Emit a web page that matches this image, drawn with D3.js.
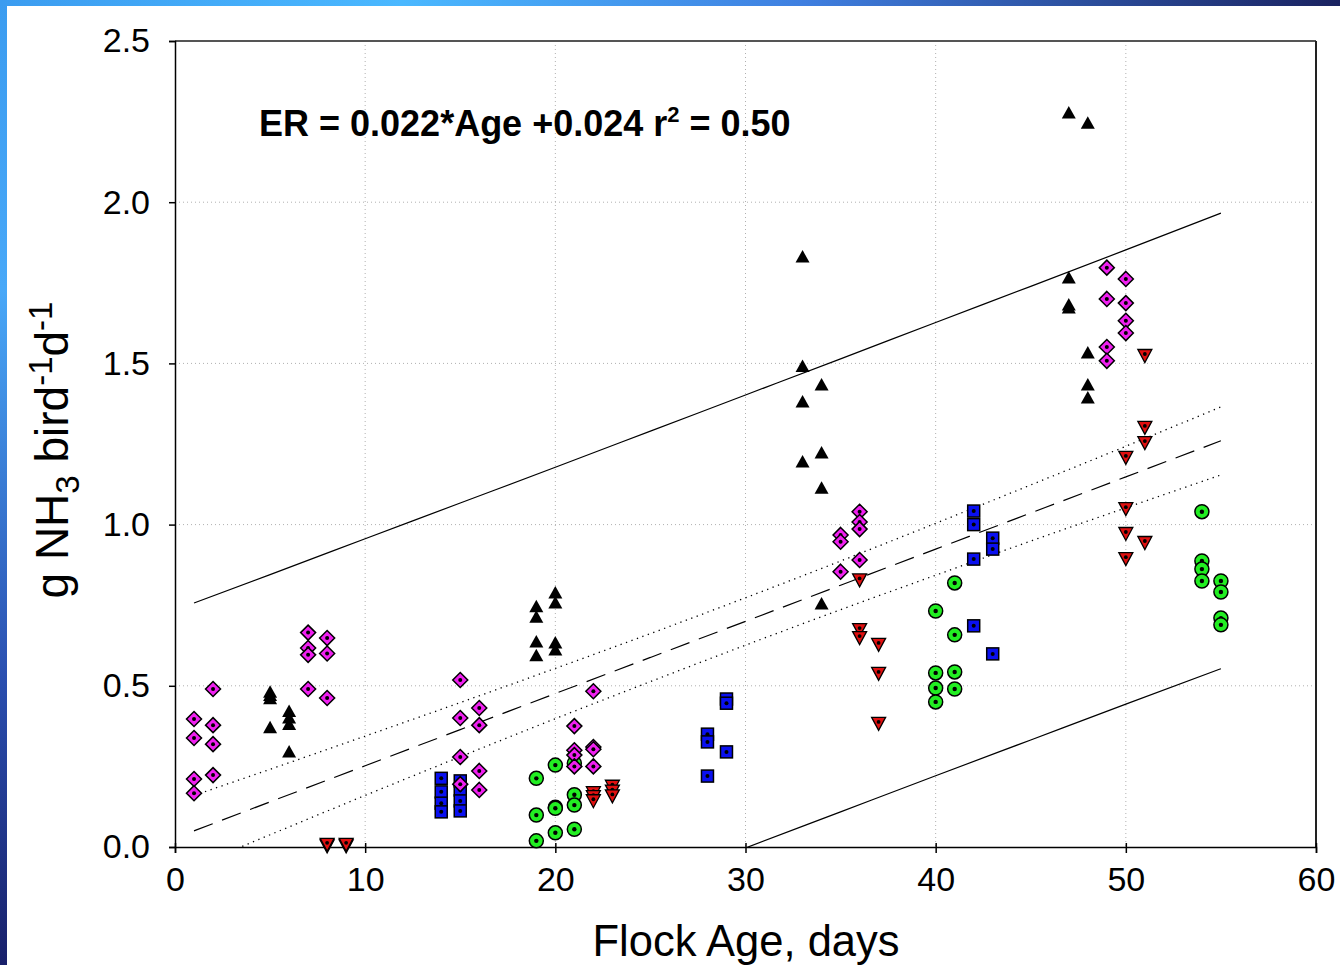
<!DOCTYPE html>
<html><head><meta charset="utf-8">
<script src="https://cdn.jsdelivr.net/npm/d3@7"></script>
<style>html,body{margin:0;padding:0;background:#fff;}svg{display:block;font-family:"Liberation Sans",Arial,sans-serif;}</style>
</head><body><svg id="c" width="1340" height="965"></svg>
<script>
// ---------- data ----------
const xTicks = [0,10,20,30,40,50,60];
const yTicks = [0,0.5,1.0,1.5,2.0,2.5];

const triUpAge = [5,5,5,5, 6,6,6,6, 19,19,19,19, 20,20,20,20, 33,33,33,33, 34,34,34,34, 47,47,47,47, 48,48,48,48];
const triUpVal = [0.48,0.47,0.46,0.37, 0.42,0.40,0.38,0.295, 0.745,0.713,0.636,0.593, 0.788,0.757,0.633,0.611, 1.83,1.49,1.38,1.194, 1.433,1.222,1.113,0.754, 2.277,1.765,1.681,1.672, 2.245,1.532,1.433,1.393];

const diaAge = [1,1,1,1, 2,2,2,2, 7,7,7,7, 8,8,8, 15,15,15,15, 16,16,16,16, 21,21,21,21, 22,22,22,22, 35,35,35, 36,36,36,36, 49,49,49,49, 50,50,50,50];
const diaVal = [0.397,0.338,0.211,0.167, 0.49,0.378,0.319,0.223, 0.665,0.617,0.596,0.49, 0.648,0.60,0.462, 0.518,0.40,0.279,0.195, 0.431,0.378,0.236,0.177, 0.375,0.30,0.285,0.25, 0.483,0.31,0.303,0.25, 0.968,0.947,0.854, 1.04,1.008,0.986,0.89, 1.797,1.70,1.551,1.508, 1.762,1.687,1.632,1.594];

const sqAge = [14,14,14,14, 15,15,15,15, 28,28,28, 29,29,29, 42,42,42,42, 43,43,43];
const sqVal = [0.213,0.171,0.136,0.109, 0.205,0.177,0.143,0.112, 0.35,0.326,0.22, 0.459,0.446,0.295, 1.042,1.0,0.893,0.686, 0.958,0.924,0.599];

const cirAge = [19,19,19, 20,20,20,20, 21,21,21,21, 40,40,40,40, 41,41,41,41, 54,54,54,54, 55,55,55,55];
const cirVal = [0.213,0.099,0.019, 0.254,0.123,0.12,0.044, 0.26,0.162,0.13,0.055, 0.732,0.54,0.493,0.45, 0.819,0.658,0.543,0.49, 1.04,0.887,0.862,0.825, 0.825,0.791,0.71,0.689];

const triDnAge = [8,8, 9,9, 22,22,22, 23,23,23, 36,36,36, 37,37,37, 50,50,50,50, 51,51,51,51];
const triDnVal = [0.005,0.01, 0.005,0.01, 0.17,0.158,0.145, 0.19,0.175,0.16, 0.83,0.676,0.651, 0.63,0.54,0.385, 1.21,1.051,0.974,0.896, 1.526,1.303,1.256,0.946];

// regression line and bands
const fitAge   = [1,5,10,15,20,25,30,35,40,45,50,55];
const fitVal   = [0.050,0.140,0.252,0.364,0.476,0.588,0.700,0.812,0.924,1.036,1.148,1.260];
const ciUpper  = [0.160,0.241,0.344,0.448,0.554,0.662,0.773,0.887,1.004,1.123,1.243,1.365];
const ciLower  = [-0.060,0.038,0.160,0.280,0.398,0.513,0.626,0.736,0.843,0.949,1.052,1.154];
const piUpper  = [0.757,0.845,0.956,1.067,1.178,1.290,1.402,1.514,1.627,1.739,1.852,1.966];
const piLower  = [-0.657,-0.566,-0.453,-0.340,-0.227,-0.115,-0.003,0.109,0.221,0.332,0.443,0.553];

// ---------- drawing ----------
const svg = d3.select("#c");
const L=175,R=1316,T=41,B=847;
const x = d3.scaleLinear().domain([0,60]).range([L,R]);
const y = d3.scaleLinear().domain([0,2.5]).range([B,T]);

const defs = svg.append("defs");
const gTop = defs.append("linearGradient").attr("id","gtop").attr("x1","0").attr("x2","1").attr("y1","0").attr("y2","0");
gTop.append("stop").attr("offset","0").attr("stop-color","#3b9cf0");
gTop.append("stop").attr("offset","0.3").attr("stop-color","#4ab8ff");
gTop.append("stop").attr("offset","0.6").attr("stop-color","#3f7fe0");
gTop.append("stop").attr("offset","1").attr("stop-color","#1a2260");
const gLeft = defs.append("linearGradient").attr("id","gleft").attr("x1","0").attr("x2","0").attr("y1","0").attr("y2","1");
gLeft.append("stop").attr("offset","0").attr("stop-color","#3b9cf0");
gLeft.append("stop").attr("offset","0.3").attr("stop-color","#48a8f8");
gLeft.append("stop").attr("offset","0.7").attr("stop-color","#2a4fb0");
gLeft.append("stop").attr("offset","1").attr("stop-color","#18206a");
defs.append("clipPath").attr("id","clip").append("rect").attr("x",L).attr("y",T).attr("width",R-L).attr("height",B-T);

svg.append("rect").attr("x",0).attr("y",0).attr("width",1340).attr("height",6).attr("fill","url(#gtop)");
svg.append("rect").attr("x",0).attr("y",0).attr("width",7).attr("height",965).attr("fill","url(#gleft)");

// gridlines
const grid = svg.append("g");
grid.selectAll("line.gx").data(xTicks.filter(d=>d>0&&d<60)).join("line")
  .attr("x1",d=>x(d)).attr("x2",d=>x(d)).attr("y1",T).attr("y2",B)
  .attr("stroke","#b0b0b0").attr("stroke-width",1).attr("stroke-dasharray","1,3");
grid.selectAll("line.gy").data(yTicks.filter(d=>d>0&&d<2.5)).join("line")
  .attr("x1",L).attr("x2",R).attr("y1",d=>y(d)).attr("y2",d=>y(d))
  .attr("stroke","#b0b0b0").attr("stroke-width",1).attr("stroke-dasharray","1,3");

// frame top/right
svg.append("line").attr("x1",L).attr("x2",R).attr("y1",T).attr("y2",T).attr("stroke","#555").attr("stroke-width",2);
svg.append("line").attr("x1",R).attr("x2",R).attr("y1",T).attr("y2",B).attr("stroke","#222").attr("stroke-width",2);

// axes
const yAxis = svg.append("g").attr("transform",`translate(${L},0)`)
  .call(d3.axisLeft(y).tickValues(yTicks).tickFormat(d3.format(".1f")).tickSize(6).tickPadding(18));
const xAxis = svg.append("g").attr("transform",`translate(0,${B})`)
  .call(d3.axisBottom(x).tickValues(xTicks).tickFormat(d3.format("d")).tickSize(6).tickPadding(14));
[yAxis,xAxis].forEach(a=>{
  a.select(".domain").attr("stroke","#000").attr("stroke-width",1.5);
  a.selectAll(".tick line").attr("stroke","#000").attr("stroke-width",1.5);
  a.selectAll(".tick text").attr("font-size",34).attr("fill","#000").attr("font-family","Liberation Sans, Arial, sans-serif");
});
xAxis.selectAll(".tick line").attr("y1",-4);
yAxis.selectAll(".tick text").attr("x",-25);

// lines
const plot = svg.append("g").attr("clip-path","url(#clip)");
function curve(vals){ return d3.line().x((d,i)=>x(fitAge[i])).y(d=>y(d)).curve(d3.curveMonotoneX)(vals); }
plot.append("path").attr("d",curve(piUpper)).attr("fill","none").attr("stroke","#000").attr("stroke-width",1.2);
plot.append("path").attr("d",curve(piLower)).attr("fill","none").attr("stroke","#000").attr("stroke-width",1.2);
plot.append("path").attr("d",curve(ciUpper)).attr("fill","none").attr("stroke","#000").attr("stroke-width",1.3).attr("stroke-dasharray","1.3,4.5");
plot.append("path").attr("d",curve(ciLower)).attr("fill","none").attr("stroke","#000").attr("stroke-width",1.3).attr("stroke-dasharray","1.3,4.5");
plot.append("path").attr("d",curve(fitVal)).attr("fill","none").attr("stroke","#000").attr("stroke-width",1.2).attr("stroke-dasharray","20,10");

// markers
const pts = svg.append("g");
function zip(a,v){ return a.map((d,i)=>({a:d,v:v[i]})); }
// squares
const sq = pts.selectAll("g.sq").data(zip(sqAge,sqVal)).join("g").attr("transform",d=>`translate(${x(d.a)},${y(d.v)})`);
sq.append("rect").attr("x",-6).attr("y",-6).attr("width",12).attr("height",12).attr("fill","#0a10f0").attr("stroke","#000").attr("stroke-width",1.5);
sq.append("circle").attr("r",2).attr("fill","#000");
// circles
const ci = pts.selectAll("g.ci").data(zip(cirAge,cirVal)).join("g").attr("transform",d=>`translate(${x(d.a)},${y(d.v)})`);
ci.append("circle").attr("r",7).attr("fill","#22ee22").attr("stroke","#000").attr("stroke-width",1.5);
ci.append("circle").attr("r",2.2).attr("fill","#000");
// down triangles
const td = pts.selectAll("g.td").data(zip(triDnAge,triDnVal)).join("g").attr("transform",d=>`translate(${x(d.a)},${y(d.v)})`);
td.append("path").attr("d","M-7,-5.5 L7,-5.5 L0,7.5 Z").attr("fill","#e01010").attr("stroke","#000").attr("stroke-width",1.3);
td.append("circle").attr("r",1.9).attr("cy",-1).attr("fill","#000");
// diamonds
const di = pts.selectAll("g.di").data(zip(diaAge,diaVal)).join("g").attr("transform",d=>`translate(${x(d.a)},${y(d.v)})`);
di.append("path").attr("d","M0,-7.5 L7.5,0 L0,7.5 L-7.5,0 Z").attr("fill","#f020f0").attr("stroke","#000").attr("stroke-width",1.5);
di.append("circle").attr("r",2).attr("fill","#000");
// up triangles
const tu = pts.selectAll("g.tu").data(zip(triUpAge,triUpVal)).join("g").attr("transform",d=>`translate(${x(d.a)},${y(d.v)})`);
tu.append("path").attr("d","M0,-7 L7,5.5 L-7,5.5 Z").attr("fill","#000");

// equation text
const eq = svg.append("text").attr("x",259).attr("y",136).attr("font-size",36).attr("font-weight","bold").attr("fill","#000");
eq.append("tspan").text("ER = 0.022*Age +0.024 r");
eq.append("tspan").attr("font-size",22).attr("dy",-14).text("2");
eq.append("tspan").attr("dy",14).text(" = 0.50");

// axis titles
svg.append("text").attr("x",746).attr("y",956).attr("text-anchor","middle").attr("font-size",43.5).attr("fill","#000").text("Flock Age, days");
const yt = svg.append("text").attr("transform","translate(68,450) rotate(-90)").attr("text-anchor","middle").attr("font-size",46).attr("fill","#000");
yt.append("tspan").text("g NH");
yt.append("tspan").attr("font-size",33).attr("dy",11).text("3");
yt.append("tspan").attr("dy",-11).text(" bird");
yt.append("tspan").attr("font-size",33).attr("dy",-16).text("-1");
yt.append("tspan").attr("dy",16).text("d");
yt.append("tspan").attr("font-size",33).attr("dy",-16).text("-1");
</script></body></html>
